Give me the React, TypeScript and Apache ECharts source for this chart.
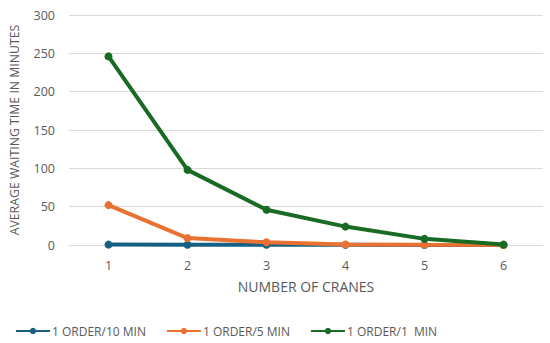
import React, { useEffect, useRef } from "react";
import * as echarts from "echarts";

const categories = ["1", "2", "3", "4", "5", "6"];
const seriesNames = ["1 ORDER/10 MIN", "1 ORDER/5 MIN", "1 ORDER/1  MIN"];
const order10 = [0.5, 0.4, 0.3, 0.2, 0.1, 0.1];
const order5 = [52, 9, 3.5, 0.6, 0.3, 0.1];
const order1 = [246, 98, 46, 24, 8, 0.5];
const colors = ["#156082", "#E97132", "#196B24"];

export default function App() {
  const ref = useRef<HTMLDivElement>(null);
  useEffect(() => {
    if (!ref.current) return;
    const chart = echarts.init(ref.current, null, { renderer: "svg" });
    const font = "'Open Sans', 'Liberation Sans', sans-serif";
    const data = [order10, order5, order1];
    chart.setOption({
      animation: false,
      color: colors,
      textStyle: { fontFamily: font },
      grid: { left: 66, right: 7, top: 15, bottom: 98 },
      legend: {
        left: 10,
        top: 320,
        itemWidth: 34,
        itemHeight: 8,
        itemGap: 20,
        textStyle: { color: "#595959", fontSize: 12, fontFamily: font, padding: [0, 0, 0, -3] },
        data: seriesNames,
      },
      xAxis: {
        type: "category",
        data: categories,
        name: "NUMBER OF CRANES",
        nameLocation: "middle",
        nameGap: 34,
        nameTextStyle: { color: "#595959", fontSize: 14 },
        axisLine: { show: false },
        axisTick: { show: false },
        axisLabel: { color: "#595959", fontSize: 12.5, margin: 14 },
      },
      yAxis: {
        type: "value",
        min: 0,
        max: 300,
        interval: 50,
        name: "AVERAGE WAITING TIME IN MINUTES",
        nameLocation: "middle",
        nameGap: 49,
        nameTextStyle: { color: "#595959", fontSize: 12.3 },
        axisLabel: { color: "#595959", fontSize: 12.5, margin: 14 },
        splitLine: { lineStyle: { color: "#D9D9D9", width: 1 } },
      },
      series: seriesNames.map((n, i) => ({
        name: n,
        type: "line",
        data: data[i],
        symbol: "circle",
        symbolSize: 8,
        lineStyle: { width: 4, color: colors[i] },
        itemStyle: { color: colors[i] },
        z: 2 + i,
      })),
    });
    return () => chart.dispose();
  }, []);
  return (
    <div
      ref={ref}
      style={{ position: "absolute", left: 0, top: 0, width: 550, height: 343 }}
    />
  );
}
